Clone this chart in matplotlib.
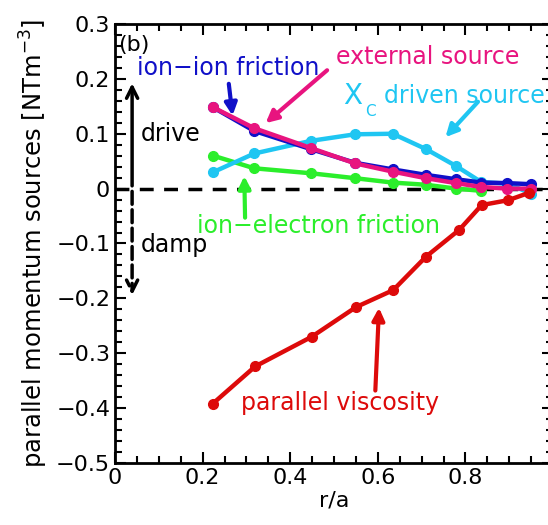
import numpy as np
import matplotlib.pyplot as plt
from matplotlib.ticker import MultipleLocator, FixedLocator, FuncFormatter

plt.rcParams['font.family'] = 'DejaVu Sans'
plt.rcParams['font.size'] = 16

# radial positions of the profile points
r_main = [0.224, 0.318, 0.447, 0.548, 0.634, 0.710, 0.779, 0.836, 0.896, 0.950]

ext_src = [0.148, 0.110, 0.074, 0.046, 0.031, 0.019, 0.010, 0.003, 0.000, 0.000]
ion_ion = [0.148, 0.105, 0.072, 0.047, 0.035, 0.025, 0.017, 0.011, 0.010, 0.008]
xc_src = [0.030, 0.064, 0.087, 0.099, 0.100, 0.072, 0.041, 0.012, 0.009, -0.009]

r_ie = [0.224, 0.318, 0.447, 0.548, 0.634, 0.710, 0.779, 0.836]
ion_el = [0.060, 0.037, 0.028, 0.019, 0.011, 0.007, 0.000, -0.004]

r_visc = [0.223, 0.320, 0.449, 0.550, 0.635, 0.710, 0.786, 0.837, 0.898, 0.944]
par_visc = [-0.392, -0.324, -0.270, -0.216, -0.185, -0.124, -0.075, -0.030, -0.021, -0.008]

x_ticks = [0, 0.2, 0.4, 0.6, 0.8]

c_red = '#dd0a0a'
c_pink = '#e8147f'
c_blue = '#1010c8'
c_cyan = '#1fc6f2'
c_green = '#2bee2b'

fig = plt.figure(figsize=(5.48, 5.25), dpi=100)
ax = fig.add_axes([0.2099, 0.1181, 0.7993, 0.8362])

kw = dict(linewidth=3.2, marker='o', markersize=7, solid_capstyle='round')
ax.plot(r_ie, ion_el, color=c_green, **kw)
ax.plot(r_main, xc_src, color=c_cyan, **kw)
ax.plot(r_main, ion_ion, color=c_blue, **kw)
ax.plot(r_main, ext_src, color=c_pink, **kw)
ax.plot(r_visc, par_visc, color=c_red, **kw)

ax.axhline(0, color='k', linewidth=2.5, linestyle=(0, (4, 3)), zorder=1)

ax.set_xlim(0, 1.0)
ax.set_ylim(-0.5, 0.3)
ax.xaxis.set_major_locator(FixedLocator(x_ticks))
ax.xaxis.set_minor_locator(MultipleLocator(0.05))
ax.yaxis.set_major_locator(MultipleLocator(0.1))
ax.yaxis.set_minor_locator(MultipleLocator(0.02))

def fmt(x, pos):
    if abs(x) < 1e-9:
        return '0'
    return ('%.1f' % x).replace('-', '\u2212')

ax.xaxis.set_major_formatter(FuncFormatter(fmt))
ax.yaxis.set_major_formatter(FuncFormatter(fmt))
ax.tick_params(which='both', direction='in', top=True, right=True, width=1.5,
               labelsize=16)
ax.tick_params(which='major', length=8)
ax.tick_params(which='minor', length=5)
for s in ax.spines.values():
    s.set_linewidth(2)

ax.set_xlabel('r/a', fontsize=16, labelpad=2)
ax.set_ylabel(r'parallel momentum sources [NTm$^{-3}$]', fontsize=17.5, labelpad=4)

ax.text(0.008, 0.262, '(b)', fontsize=16, va='center')

# drive / damp arrows
ax.annotate('', xy=(0.039, 0.197), xytext=(0.039, 0.0),
            arrowprops=dict(arrowstyle='->', color='k', lw=2.5, mutation_scale=20))
ax.annotate('', xy=(0.039, -0.199), xytext=(0.039, 0.0),
            arrowprops=dict(arrowstyle='->', color='k', lw=2.5, linestyle='--',
                            mutation_scale=20))
ax.text(0.058, 0.1, 'drive', fontsize=17, va='center')
ax.text(0.058, -0.103, 'damp', fontsize=17, va='center')

ak = dict(arrowstyle='-|>', lw=3, mutation_scale=18)
ax.text(0.05, 0.22, 'ion\u2212ion friction', color=c_blue, fontsize=17, va='center')
ax.annotate('', xy=(0.269, 0.128), xytext=(0.259, 0.196),
            arrowprops=dict(color=c_blue, **ak))

ax.text(0.505, 0.24, 'external source', color=c_pink, fontsize=17, va='center')
ax.annotate('', xy=(0.339, 0.116), xytext=(0.489, 0.219),
            arrowprops=dict(color=c_pink, **ak))

ax.text(0.52, 0.168, 'X', color=c_cyan, fontsize=20, va='center')
ax.text(0.572, 0.14, 'C', color=c_cyan, fontsize=11, va='center')
ax.text(0.615, 0.168, 'driven source', color=c_cyan, fontsize=17, va='center')
ax.annotate('', xy=(0.75, 0.09), xytext=(0.833, 0.162),
            arrowprops=dict(color=c_cyan, **ak))

ax.text(0.187, -0.069, 'ion\u2212electron friction', color=c_green, fontsize=17,
        va='center')
ax.annotate('', xy=(0.295, 0.028), xytext=(0.297, -0.058),
            arrowprops=dict(color=c_green, **ak))

ax.text(0.288, -0.391, 'parallel viscosity', color=c_red, fontsize=17, va='center')
ax.annotate('', xy=(0.603, -0.212), xytext=(0.594, -0.373),
            arrowprops=dict(color=c_red, **ak))

fig.savefig('out.png', dpi=100)
